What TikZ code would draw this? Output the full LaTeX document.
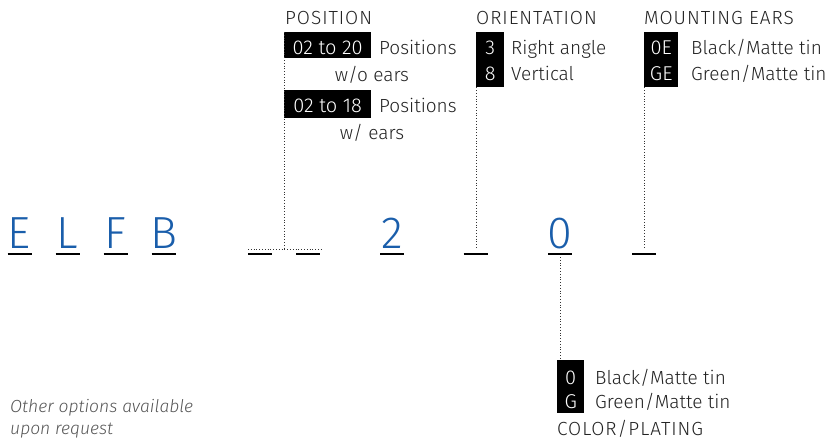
\documentclass[tikz,border=0pt]{standalone}
\usepackage{fontspec}
\setmainfont{Fira Sans Light}
\newfontfamily\capsfont{Fira Sans Light}[LetterSpace=5]
\definecolor{partblue}{HTML}{1A5EAB}
\definecolor{txt}{HTML}{222222}
\definecolor{note}{HTML}{555555}
\begin{document}
\begin{tikzpicture}[x=1pt,y=-1pt,
  lbl/.style={anchor=base west,inner sep=0pt,text=txt,font=\fontsize{19}{21}\selectfont},
  ttl/.style={anchor=base west,inner sep=0pt,text=txt,font=\capsfont\fontsize{19}{21}\selectfont},
  boxtxt/.style={anchor=base,inner sep=0pt,text=white,font=\fontsize{20}{22}\selectfont},
  codebox/.style={fill=black,inner sep=0pt,anchor=north west},
  letter/.style={anchor=base,inner sep=0pt,text=partblue,font=\fontsize{45}{48}\selectfont},
  uline/.style={line width=2pt,black},
  leader/.style={dotted,line width=0.8pt,black!80},
  notetxt/.style={anchor=base west,inner sep=0pt,text=note,font=\fontsize{17.5}{20}\selectfont\itshape}]
\useasboundingbox (0,0) rectangle (830,441);
% part number letters
\foreach \n/\x/\t in {e/19.5/E,l/67.5/L,f/115.5/F,b/163.5/B,two/392/2,zero/560/0}{
  \node[letter] (\n) at (\x,248) {\t};
}
\foreach \n/\x in {u1/19.5,u2/67.5,u3/115.5,u4/163.5,u5/260,u6/308,u7/392,u8/475.5,u9/560,u10/644}{
  \coordinate (\n a) at (\x-12,254);
  \coordinate (\n b) at (\x+12,254);
  \draw[uline] (\n a) -- (\n b);
}
% POSITION
\node[ttl] (postitle) at (285,25) {POSITION};
\node[codebox,minimum width=87pt,minimum height=26pt] (pbox1) at (284,32) {};
\node[boxtxt] (p1) at (pbox1.center |- 0,55) {02 to 20};
\node[lbl] (p1t) at (379,55) {Positions};
\node[lbl,anchor=base] (wo) at (372,82) {w/o ears};
\node[codebox,minimum width=87pt,minimum height=28pt] (pbox2) at (284,90) {};
\node[boxtxt] (p2) at (pbox2.center |- 0,113) {02 to 18};
\node[lbl] (p2t) at (379,113) {Positions};
\node[lbl,anchor=base] (w) at (372,140) {w/ ears};
\coordinate (posbot) at (284,249);
\coordinate (posl) at (248,249);
\coordinate (posr) at (322,249);
\draw[leader] (pbox1.north west) -- (posbot);
\draw[leader] (posl) -- (posr);
% ORIENTATION
\node[ttl] (ortitle) at (476,25) {ORIENTATION};
\node[codebox,minimum width=28pt,minimum height=55pt] (obox) at (476,32) {};
\node[boxtxt] (o3) at (obox.center |- 0,55) {3};
\node[boxtxt] (o8) at (obox.center |- 0,81) {8};
\node[lbl] (o3t) at (511,55) {Right angle};
\node[lbl] (o8t) at (511,81) {Vertical};
\coordinate (orbot) at (476,249);
\draw[leader] (obox.south west) -- (orbot);
% MOUNTING EARS
\node[ttl] (metitle) at (644,25) {MOUNTING EARS};
\node[codebox,minimum width=34pt,minimum height=55pt] (mbox) at (644,32) {};
\node[boxtxt] (m0) at (mbox.center |- 0,55) {0E};
\node[boxtxt] (mg) at (mbox.center |- 0,81) {GE};
\node[lbl] (m0t) at (691,55) {Black/Matte tin};
\node[lbl] (mgt) at (691,81) {Green/Matte tin};
\coordinate (mebot) at (644,249);
\draw[leader] (mbox.south west) -- (mebot);
% COLOR/PLATING
\node[codebox,minimum width=27pt,minimum height=53pt] (cbox) at (557,360) {};
\node[boxtxt] (c0) at (cbox.center |- 0,384) {0};
\node[boxtxt] (cg) at (cbox.center |- 0,408) {G};
\node[lbl] (c0t) at (595,384) {Black/Matte tin};
\node[lbl] (cgt) at (595,408) {Green/Matte tin};
\node[ttl] (cotitle) at (557,435) {COLOR/PLATING};
\coordinate (cotop) at (560,257);
\draw[leader] (cotop) -- (cbox.north west -| cotop);
% note
\node[notetxt] (n1) at (10,412) {Other options available};
\node[notetxt] (n2) at (10,434) {upon request};
\end{tikzpicture}
\end{document}
